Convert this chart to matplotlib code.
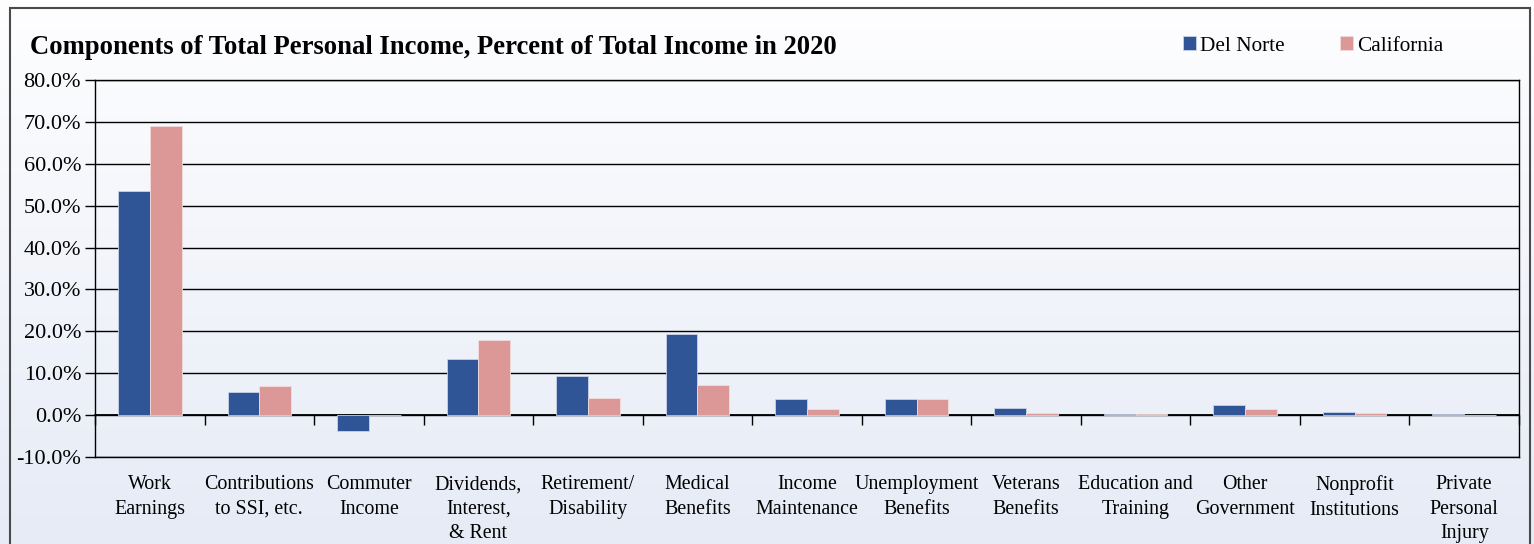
import numpy as np
import matplotlib.pyplot as plt
from matplotlib.patches import Rectangle
from matplotlib.ticker import FuncFormatter

categories = ["Work\nEarnings", "Contributions\nto SSI, etc.", "Commuter\nIncome",
              "Dividends,\nInterest,\n& Rent", "Retirement/\nDisability", "Medical\nBenefits",
              "Income\nMaintenance", "Unemployment\nBenefits", "Veterans\nBenefits",
              "Education and\nTraining", "Other\nGovernment", "Nonprofit\nInstitutions",
              "Private\nPersonal\nInjury"]
del_norte = [53.5, 5.5, -3.9, 13.4, 9.3, 19.3, 3.8, 3.8, 1.7, 0.3, 2.4, 0.7, 0.2]
california = [69.0, 6.9, 0.0, 17.9, 4.0, 7.2, 1.4, 3.8, 0.4, 0.3, 1.5, 0.5, 0.1]
y_ticks = [-10, 0, 10, 20, 30, 40, 50, 60, 70, 80]

plt.rcParams['font.family'] = ['Liberation Serif', 'DejaVu Serif']

W, H = 1534, 544
fig = plt.figure(figsize=(W / 100, H / 100), dpi=100)

# soft vertical gradient behind everything
bg = fig.add_axes([0, 0, 1, 1], zorder=-10)
grad = np.linspace(0, 1, 256).reshape(-1, 1)
top_c = np.array([0xfe, 0xfe, 0xff]) / 255
bot_c = np.array([0xe6, 0xeb, 0xf6]) / 255
img = top_c + (bot_c - top_c) * grad[..., None]
bg.imshow(img, aspect='auto', extent=[0, 1, 0, 1], origin='upper')
bg.set_axis_off()

# outer chart border
fig.patches.append(Rectangle((10 / W, -0.05), 1520 / W, (H - 8) / H + 0.05,
                             transform=fig.transFigure, fill=False,
                             edgecolor='#4a4a4a', linewidth=1.5))

ax = fig.add_axes([95 / W, (H - 457) / H, (1519 - 95) / W, (457 - 80) / H])
ax.set_facecolor('none')

x = np.arange(len(categories))
bw = 0.29
ax.bar(x - bw / 2, del_norte, bw, color='#2f5597', edgecolor='#c9d3e8', linewidth=0.6,
       label='Del Norte', zorder=3)
ax.bar(x + bw / 2, california, bw, color='#dc9896', edgecolor='#f3dcdc', linewidth=0.6,
       label='California', zorder=3)

ax.set_xlim(-0.5, len(categories) - 0.5)
ax.set_ylim(-10, 80)
ax.set_yticks(y_ticks)
ax.yaxis.set_major_formatter(FuncFormatter(lambda v, p: f"{v:.1f}%"))
ax.yaxis.grid(True, color='black', linewidth=1.0, zorder=1)
ax.tick_params(axis='y', direction='out', length=7, width=1, labelsize=16, pad=3)

ax.set_xticks(x)
ax.set_xticklabels(categories, fontsize=14.4, linespacing=1.4)
ax.tick_params(axis='x', length=0, pad=13)

for s in ax.spines.values():
    s.set_color('black')
    s.set_linewidth(1.0)

# category separator ticks along the zero line
zero_ax = ax.secondary_xaxis(10 / 90)
zero_ax.set_xticks(np.arange(len(categories) + 1) - 0.5)
zero_ax.tick_params(axis='x', direction='out', length=7, width=1, labelbottom=False,
                    labeltop=False)
zero_ax.spines['bottom'].set_linewidth(1.3)
zero_ax.spines['bottom'].set_color('black')

fig.text(30 / W, 1 - 48 / H, "Components of Total Personal Income, Percent of Total Income in 2020",
         fontsize=19.2, fontweight='bold', va='center', ha='left')

fig.legend(loc='center', bbox_to_anchor=(1313 / W, 1 - 46 / H), ncol=2, frameon=False,
           fontsize=15.3, handlelength=0.6, handleheight=0.6, handletextpad=0.2,
           columnspacing=2.6)

fig.savefig('out.png', dpi=100)
